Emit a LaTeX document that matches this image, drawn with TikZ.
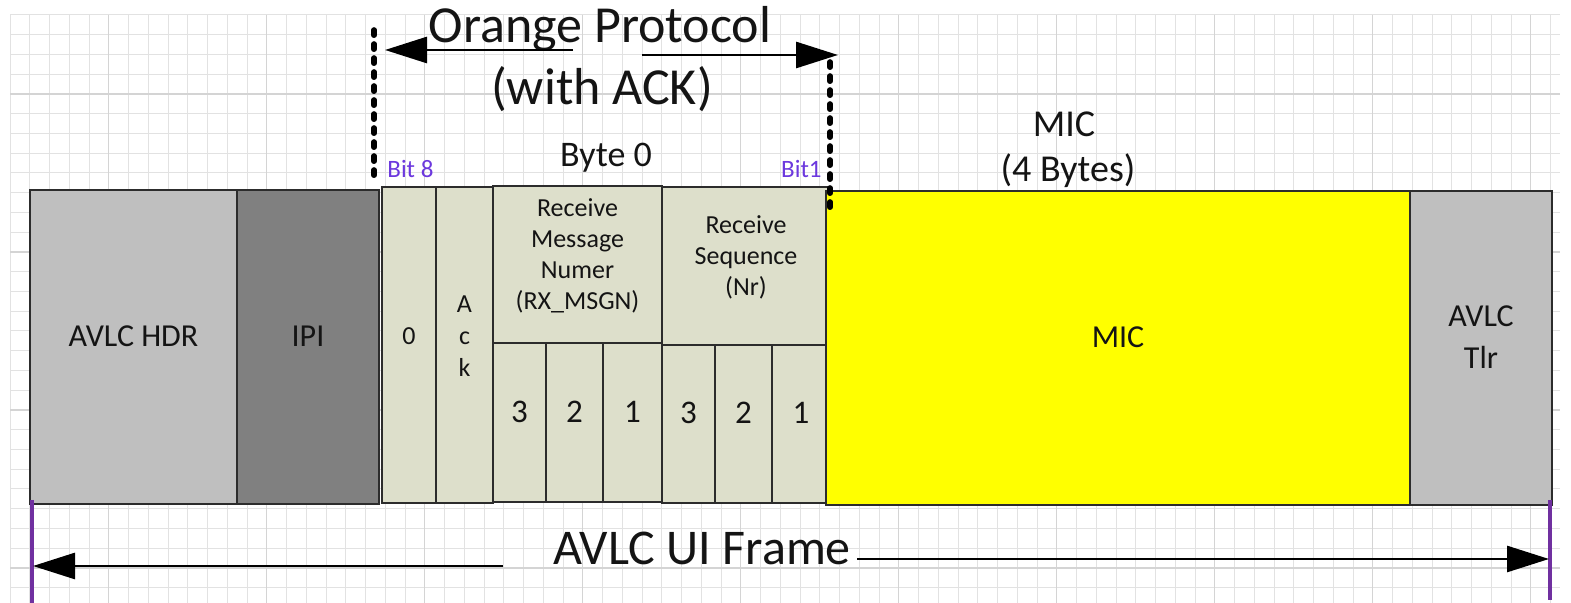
\documentclass[tikz,border=0pt]{standalone}
\usepackage{fontspec}
\setmainfont{Carlito}
\usetikzlibrary{arrows.meta,fit}

\definecolor{hdrgray}{HTML}{BFBFBF}
\definecolor{ipigray}{HTML}{808080}
\definecolor{bytefill}{HTML}{DDDFCB}
\definecolor{micyellow}{HTML}{FFFF00}
\definecolor{gridminor}{HTML}{E2E2E2}
\definecolor{gridmajor}{HTML}{D4D4D4}
\definecolor{framepurple}{HTML}{7030A0}
\definecolor{bitviolet}{RGB}{108,56,222}
\definecolor{ink}{HTML}{141414}

\begin{document}
\begin{tikzpicture}[x=0.5pt,y=-0.5pt,
  field/.style={draw=ink!90, line width=0.7pt, inner sep=0pt, text=ink, align=center},
  biglabel/.style={font=\fontsize{16}{19}\selectfont},
  smalllabel/.style={font=\fontsize{13}{15.5}\selectfont},
  stacklabel/.style={font=\fontsize{13}{16}\selectfont},
  digit/.style={font=\fontsize{16.5}{19}\selectfont},
  title/.style={text=ink, inner sep=0pt, anchor=base},
  spanarrow/.style={draw=black, line width=1.4pt, -{Triangle[length=21pt,width=13pt]}},
  bitmark/.style={draw=black, line width=2.8pt, line cap=round, dash pattern=on 2.6pt off 4.4pt},
  frameedge/.style={draw=framepurple, line width=2.2pt},
  gridthin/.style={draw=gridminor, line width=0.5pt},
  gridthick/.style={draw=gridmajor, line width=0.6pt}
]
\useasboundingbox (0,0) rectangle (1571,603);
\fill[white] (0,0) rectangle (1571,603);

% background grid
\foreach \i in {0,...,78} {\draw[gridthin] ({10+\i*19.75},15) -- ({10+\i*19.75},603);}
\foreach \j in {0,...,29} {\draw[gridthin] (10,{15+\j*19.75}) -- (1560,{15+\j*19.75});}
\foreach \i in {5,13,...,77} {\draw[gridthick] ({10+\i*19.75},15) -- ({10+\i*19.75},603);}
\foreach \j in {4,12,20,28} {\draw[gridthick] (10,{15+\j*19.75}) -- (1560,{15+\j*19.75});}

% frame fields
\node[field, fill=hdrgray, fit={(30,190) (237,504)}, biglabel] (hdr) {AVLC HDR};
\node[field, fill=ipigray, fit={(237,190) (379,504)}, biglabel] (ipi) {IPI};

% byte 0
\node[field, fill=bytefill, fit={(382,187) (436,503)}, stacklabel] (zero) {0};
\node[field, fill=bytefill, fit={(436,187) (493,503)}, stacklabel] (ack) {A\\c\\k};
\node[field, fill=bytefill, fit={(493,186) (662,343)}, smalllabel] (rxmsgn) {Receive\\Message\\Numer\\(RX\_MSGN)};
\node[field, fill=bytefill, fit={(493,343) (546,502)}, digit] (rx3) {3};
\node[field, fill=bytefill, fit={(546,343) (603,502)}, digit] (rx2) {2};
\node[field, fill=bytefill, fit={(603,343) (662,502)}, digit] (rx1) {1};
\node[field, fill=bytefill, fit={(662,187) (830,345)}, smalllabel] (nr) {Receive\\Sequence\\(Nr)};
\node[field, fill=bytefill, fit={(662,345) (715,503)}, digit] (nr3) {3};
\node[field, fill=bytefill, fit={(715,345) (772,503)}, digit] (nr2) {2};
\node[field, fill=bytefill, fit={(772,345) (830,503)}, digit] (nr1) {1};

% MIC and trailer
\node[field, fill=micyellow, fit={(826,191) (1410,505)}, biglabel] (mic) {MIC};
\node[field, fill=hdrgray, fit={(1410,191) (1552,505)}, font=\fontsize{16}{21}\selectfont] (tlr) {AVLC\\Tlr};

% labels above the frame
\node[title, font=\fontsize{26}{31}\selectfont] (proto) at (600,43) {Orange Protocol};
\node[title, font=\fontsize{26}{31}\selectfont] (ack-note) at (602,105) {(with ACK)};
\node[title, font=\fontsize{18}{21}\selectfont] (byte) at (606,167) {Byte 0};
\node[title, anchor=base west, text=bitviolet, font=\fontsize{12.5}{14}\selectfont] (bit8) at (387,178) {Bit 8};
\node[title, anchor=base east, text=bitviolet, font=\fontsize{12.5}{14}\selectfont] (bit1) at (822,178) {Bit1};
\node[title, font=\fontsize{19}{22}\selectfont] (mictop) at (1064,137) {MIC};
\node[title, font=\fontsize{19}{22}\selectfont] (micsize) at (1068,182) {(4 Bytes)};
\node[title, font=\fontsize{25}{30}\selectfont] (ui) at (702,565) {AVLC UI Frame};

% bit boundary markers
\coordinate (b8top) at (374,30);
\coordinate (b8bot) at (374,177);
\coordinate (b1top) at (830,62);
\coordinate (b1bot) at (830,210);
\draw[bitmark] (b8top) -- (b8bot);
\draw[bitmark] (b1top) -- (b1bot);

% span of the protocol byte
\coordinate (pl) at (573,50);
\coordinate (pltip) at (385,50);
\coordinate (pr) at (642,55);
\coordinate (prtip) at (838,55);
\draw[spanarrow] (pl) -- (pltip);
\draw[spanarrow] (pr) -- (prtip);

% span of the whole frame
\coordinate (fl) at (32,500);
\coordinate (flb) at (32,603);
\coordinate (fr) at (1550,500);
\coordinate (frb) at (1550,600);
\draw[frameedge] (fl) -- (flb);
\draw[frameedge] (fr) -- (frb);
\coordinate (ul) at (503,566);
\coordinate (ultip) at (33,566);
\coordinate (ur) at (857,559);
\coordinate (urtip) at (1549,559);
\draw[spanarrow] (ul) -- (ultip);
\draw[spanarrow] (ur) -- (urtip);
\end{tikzpicture}
\end{document}
